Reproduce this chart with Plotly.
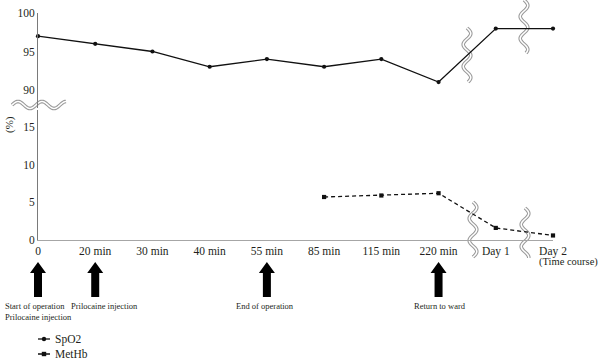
import math
import plotly.graph_objects as go

# ---------------- data ----------------
categories = ["0", "20 min", "30 min", "40 min", "55 min", "85 min",
              "115 min", "220 min", "Day 1", "Day 2"]
spo2 = [97, 96, 95, 93, 94, 93, 94, 91, 98, 98]
methb = [None, None, None, None, None, 5.7, 5.9, 6.2, 1.6, 0.6]
spo2_ticks = [90, 95, 100]
methb_ticks = [0, 5, 10, 15]
event_categories = ["0", "20 min", "55 min", "220 min"]
event_labels = ["Start of operation<br>Prilocaine injection",
                "Prilocaine injection", "End of operation", "Return to ward"]
series_names = ["SpO2", "MetHb"]

# ---------------- geometry helpers ----------------
W, H = 600, 361
L, R, T, B = 38, 47, 0, 0
PW, PH = W - L - R, H - T - B


def px(x):
    return (x - L) / PW


def py(y):
    return (H - B - y) / PH


FONT = "Liberation Serif, Times New Roman, serif"
TXT = "#231f20"
xs = list(range(len(categories)))


def cat_paper(cat):
    # x axis spans the full domain with range [0, n-1]
    return categories.index(cat) / (len(categories) - 1)


fig = go.Figure()
fig.add_trace(go.Scatter(
    x=xs, y=spo2, xaxis="x2", yaxis="y2", mode="lines+markers",
    name=series_names[0], showlegend=False, cliponaxis=False,
    line=dict(color="#111111", width=1.3),
    marker=dict(symbol="circle", size=4.2, color="#111111")))
fig.add_trace(go.Scatter(
    x=xs, y=methb, xaxis="x", yaxis="y", mode="lines+markers",
    name=series_names[1], showlegend=False, cliponaxis=False,
    line=dict(color="#111111", width=1.3, dash="4px,3px"),
    marker=dict(symbol="square", size=4.2, color="#111111")))

shapes = []


def wave_path(points):
    return "M" + " L".join(f"{px(a):.5f},{py(b):.5f}" for a, b in points)


def add_wave(points):
    p = wave_path(points)
    shapes.append(dict(type="path", path=p, xref="paper", yref="paper",
                       line=dict(color="#9a9a9a", width=3.6), layer="below"))
    shapes.append(dict(type="path", path=p, xref="paper", yref="paper",
                       line=dict(color="#ffffff", width=1.5), layer="below"))


def hwave(x0, x1, yc, amp, period):
    n = int(x1 - x0)
    return [(x0 + i, yc - amp * math.sin(2 * math.pi * i / period)) for i in range(n + 1)]


def vwave(xc, y0, y1, amp, period):
    n = int(y1 - y0)
    return [(xc + amp * math.sin(2 * math.pi * i / period), y0 + i) for i in range(n + 1)]


add_wave(hwave(12, 66, 105, 3.5, 24))
add_wave(vwave(467, 28, 82, 3.8, 22))
add_wave(vwave(524, 0, 53, 3.8, 22))
add_wave(vwave(473, 202, 257, 3.8, 22))
add_wave(vwave(525, 208, 258, 3.8, 22))

# event arrows
arrow_path = "M0,0 L8,-11 L4,-11 L4,-35 L-4,-35 L-4,-11 L-8,-11 Z"
for cat in event_categories:
    shapes.append(dict(type="path", path=arrow_path, xref="paper", yref="paper",
                       xsizemode="pixel", ysizemode="pixel",
                       xanchor=cat_paper(cat), yanchor=py(262),
                       fillcolor="#000000", line=dict(width=0)))

# manual legend
leg_y = [339, 354]
dashes = ["solid", "4px,4px"]
for i, name in enumerate(series_names):
    shapes.append(dict(type="line", xref="paper", yref="paper",
                       x0=px(38), x1=px(50), y0=py(leg_y[i]), y1=py(leg_y[i]),
                       line=dict(color="#111111", width=1.3, dash=dashes[i])))
    shapes.append(dict(type="circle" if i == 0 else "rect", xref="paper", yref="paper",
                       xsizemode="pixel", ysizemode="pixel",
                       xanchor=px(44), yanchor=py(leg_y[i]),
                       x0=-2.2, x1=2.2, y0=-2.2, y1=2.2,
                       fillcolor="#111111", line=dict(width=0)))

annotations = []
for i, name in enumerate(series_names):
    annotations.append(dict(text=name, xref="paper", yref="paper",
                            x=px(53), y=py(leg_y[i]), xanchor="left", yanchor="middle",
                            showarrow=False, font=dict(family=FONT, size=11.5, color=TXT)))

label_shift = [0, 9, -2, 1]
for i, (cat, lab) in enumerate(zip(event_categories, event_labels)):
    annotations.append(dict(text=lab, xref="paper", yref="paper",
                            x=cat_paper(cat), xshift=label_shift[i],
                            y=py(298.5), xanchor="center", yanchor="top",
                            align="left", showarrow=False,
                            font=dict(family=FONT, size=8.5, color=TXT)))

annotations.append(dict(text="(Time course)", xref="paper", yref="paper",
                        x=px(537), y=py(262), xanchor="left", yanchor="middle",
                        showarrow=False, font=dict(family=FONT, size=10.5, color=TXT)))
annotations.append(dict(text="(%)", xref="paper", yref="paper",
                        x=px(9), y=py(125), xanchor="center", yanchor="middle",
                        textangle=-90, showarrow=False,
                        font=dict(family=FONT, size=11, color=TXT)))

axis_font = dict(family=FONT, size=11.5, color=TXT)
fig.update_layout(
    width=W, height=H,
    margin=dict(l=L, r=R, t=T, b=B),
    paper_bgcolor="white", plot_bgcolor="rgba(0,0,0,0)",
    showlegend=False,
    xaxis=dict(domain=[0, 1], range=[0, len(categories) - 1], anchor="y",
               tickvals=xs, ticktext=categories, ticks="", showgrid=False,
               zeroline=False, showline=True, linecolor="#a6a6a6", linewidth=1,
               tickfont=axis_font, automargin=False),
    yaxis=dict(domain=[py(240), py(109.5)], range=[0, 17.3], anchor="x",
               tickvals=methb_ticks, ticks="", showgrid=False, zeroline=False,
               showline=True, linecolor="#7a7a7a", linewidth=1, tickfont=axis_font,
               automargin=False),
    xaxis2=dict(domain=[0, 1], matches="x", anchor="y2", visible=False),
    yaxis2=dict(domain=[py(108), py(13.3)], range=[87.6, 100], anchor="x2",
                tickvals=spo2_ticks, ticks="", showgrid=False, zeroline=False,
                showline=True, linecolor="#7a7a7a", linewidth=1, tickfont=axis_font,
                automargin=False),
    shapes=shapes,
    annotations=annotations,
)

fig.write_html(
    "out.html",
    config={"displayModeBar": False},
    post_script="document.body.style.margin='0px';"
                "document.documentElement.style.overflow='hidden';",
)
